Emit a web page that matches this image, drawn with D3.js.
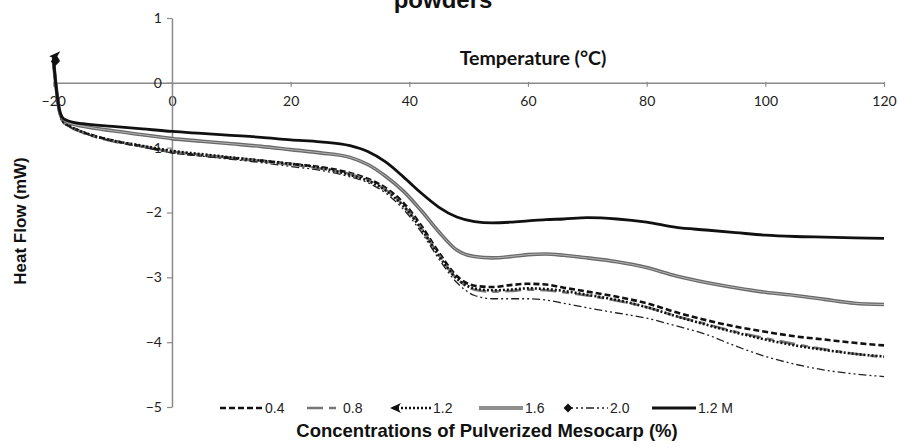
<!DOCTYPE html>
<html>
<head>
<meta charset="utf-8">
<script src="https://cdn.jsdelivr.net/npm/d3@7"></script>
<style>
  html, body { margin: 0; padding: 0; background: #fff; }
  svg { display: block; }
</style>
</head>
<body>
<svg id="chart" width="899" height="447"></svg>
<script>
// ---------------- DATA ----------------
const temps = [-20, -19.6, -19, -18.3, -17, -15, -10, -5, 0, 5, 10, 15, 20, 25, 30, 33, 36, 39, 42, 45, 48, 51, 54, 57, 60, 63, 66, 70, 75, 80, 85, 90, 95, 100, 105, 110, 115, 120];

const s04  = [0.30, 0.00, -0.42, -0.60, -0.68, -0.76, -0.89, -0.98, -1.07, -1.12, -1.16, -1.20, -1.25, -1.30, -1.39, -1.48, -1.62, -1.85, -2.20, -2.62, -2.98, -3.13, -3.15, -3.12, -3.10, -3.11, -3.16, -3.22, -3.30, -3.40, -3.54, -3.66, -3.76, -3.84, -3.91, -3.96, -4.01, -4.05];
const s08  = [0.32, 0.00, -0.43, -0.61, -0.69, -0.77, -0.90, -0.98, -1.06, -1.11, -1.16, -1.21, -1.26, -1.32, -1.41, -1.50, -1.65, -1.89, -2.24, -2.66, -3.02, -3.19, -3.22, -3.21, -3.19, -3.20, -3.23, -3.28, -3.36, -3.46, -3.60, -3.72, -3.84, -3.94, -4.03, -4.11, -4.18, -4.23];
const s12  = [0.38, 0.00, -0.43, -0.60, -0.68, -0.76, -0.89, -0.97, -1.05, -1.10, -1.15, -1.20, -1.25, -1.31, -1.42, -1.51, -1.66, -1.90, -2.25, -2.67, -3.02, -3.17, -3.20, -3.19, -3.17, -3.18, -3.21, -3.27, -3.35, -3.46, -3.60, -3.73, -3.85, -3.96, -4.05, -4.12, -4.18, -4.22];
const s16  = [0.35, 0.00, -0.42, -0.57, -0.63, -0.67, -0.74, -0.80, -0.86, -0.90, -0.94, -0.98, -1.03, -1.08, -1.15, -1.26, -1.44, -1.67, -1.97, -2.30, -2.58, -2.68, -2.70, -2.68, -2.65, -2.64, -2.66, -2.70, -2.76, -2.85, -2.98, -3.08, -3.16, -3.23, -3.28, -3.34, -3.40, -3.42];
const s20  = [0.30, 0.00, -0.43, -0.61, -0.69, -0.77, -0.90, -0.99, -1.08, -1.13, -1.18, -1.23, -1.29, -1.35, -1.45, -1.54, -1.70, -1.95, -2.30, -2.72, -3.08, -3.28, -3.33, -3.33, -3.33, -3.35, -3.40, -3.47, -3.55, -3.63, -3.75, -3.88, -4.06, -4.22, -4.34, -4.43, -4.49, -4.53];
const s12M = [0.42, 0.00, -0.40, -0.55, -0.60, -0.63, -0.67, -0.71, -0.75, -0.78, -0.81, -0.84, -0.88, -0.91, -0.97, -1.06, -1.22, -1.45, -1.70, -1.92, -2.07, -2.14, -2.16, -2.15, -2.13, -2.11, -2.10, -2.08, -2.10, -2.15, -2.23, -2.27, -2.31, -2.35, -2.37, -2.38, -2.39, -2.40];

const seriesNames = ["0.4", "0.8", "1.2", "1.6", "2.0", "1.2 M"];
const seriesValues = [s04, s08, s12, s16, s20, s12M];

const xTicks = [-20, 0, 20, 40, 60, 80, 100, 120];
const yTicks = [1, 0, -1, -2, -3, -4, -5];

const titleText = "powders";
const xTitle = "Temperature (°C)";
const yTitle = "Heat Flow (mW)";
const legendTitle = "Concentrations of Pulverized Mesocarp (%)";

// ---------------- STYLES ----------------
const styles = {
  "0.4":   { color: "#111", width: 2.6, dash: "6,3" },
  "0.8":   { color: "#777", width: 2.6, dash: "16,6,7,6" },
  "1.2":   { color: "#111", width: 2.6, dash: "2,2", marker: "arrow" },
  "1.6":   { color: "#6a6a6a", width: 3.6, dash: null, inner: "#b5b5b5" },
  "2.0":   { color: "#222", width: 1.3, dash: "8,3,2,3,2,3", marker: "diamond" },
  "1.2 M": { color: "#111", width: 2.8, dash: null }
};

// ---------------- CHART ----------------
const svg = d3.select("#chart");
const x = d3.scaleLinear().domain([-20, 120]).range([53.3, 884]);
const y = d3.scaleLinear().domain([-5, 1]).range([407, 18]);
const axisColor = "#8a8a8a";
const tickFont = "Lato, 'Open Sans', sans-serif";
const sansFont = "'Liberation Sans', Arial, sans-serif";

// title (second line, cut off at the top as in the reference)
svg.append("text")
  .attr("x", 443).attr("y", 8)
  .attr("text-anchor", "middle")
  .attr("font-family", sansFont)
  .attr("font-weight", "bold").attr("font-size", 24)
  .attr("fill", "#111")
  .text(titleText);

// X axis at y = 0
const xAxis = d3.axisBottom(x).tickValues(xTicks).tickSize(5).tickSizeOuter(0)
  .tickFormat(d => d < 0 ? "\u2212" + Math.abs(d) : String(d));
const gx = svg.append("g").attr("transform", `translate(0,${y(0)})`).call(xAxis);
gx.select(".domain").attr("stroke", axisColor).attr("stroke-width", 1.5);
gx.selectAll(".tick line").attr("stroke", axisColor).attr("stroke-width", 1.2).attr("y1", -1).attr("y2", 4);
gx.selectAll(".tick text").attr("font-family", tickFont).attr("font-size", 14).attr("fill", "#222").attr("dy", "1.05em");

// Y axis at x = 0
const yAxis = d3.axisLeft(y).tickValues(yTicks).tickSize(5).tickSizeOuter(0)
  .tickFormat(d => d < 0 ? "\u2212" + Math.abs(d) : String(d));
const gy = svg.append("g").attr("transform", `translate(${x(0)},0)`).call(yAxis);
gy.select(".domain").attr("stroke", axisColor).attr("stroke-width", 1.5);
gy.selectAll(".tick line").attr("stroke", axisColor).attr("stroke-width", 1.2);
gy.selectAll(".tick text").attr("font-family", tickFont).attr("font-size", 14).attr("fill", "#222").attr("x", -10);

// X title
svg.append("text")
  .attr("x", 533).attr("y", 65)
  .attr("text-anchor", "middle")
  .attr("font-family", tickFont)
  .attr("font-weight", "bold").attr("font-size", 19.5)
  .attr("fill", "#111")
  .text(xTitle);

// Y title
svg.append("text")
  .attr("transform", "translate(26,221) rotate(-90)")
  .attr("text-anchor", "middle")
  .attr("font-family", sansFont)
  .attr("font-weight", "bold").attr("font-size", 17)
  .attr("fill", "#111")
  .text(yTitle);

// lines
const line = d3.line().x(d => x(d[0])).y(d => y(d[1])).curve(d3.curveMonotoneX);
const plotG = svg.append("g");

function markerPath(type, cx, cy) {
  if (type === "arrow") {
    return `M${cx-6},${cy} L${cx+5},${cy-5} L${cx+2},${cy} L${cx+5},${cy+5} Z`;
  } else {
    return `M${cx},${cy-4.5} L${cx+4.5},${cy} L${cx},${cy+4.5} L${cx-4.5},${cy} Z`;
  }
}

seriesNames.forEach((name, i) => {
  const pts = temps.map((t, j) => [t, seriesValues[i][j]]);
  const st = styles[name];
  plotG.append("path")
    .attr("d", line(pts))
    .attr("fill", "none")
    .attr("stroke", st.color)
    .attr("stroke-width", st.width)
    .attr("stroke-dasharray", st.dash)
    .attr("stroke-linejoin", "round");
  if (st.inner) {
    plotG.append("path")
      .attr("d", line(pts))
      .attr("fill", "none")
      .attr("stroke", st.inner)
      .attr("stroke-width", 1);
  }
  if (st.marker) {
    plotG.append("path")
      .attr("d", markerPath(st.marker, x(pts[0][0]) + 2, y(pts[0][1]) - 2))
      .attr("fill", "#111");
  }
});

// legend
const legendItems = [
  { name: "0.4",   x0: 220, x1: 263 },
  { name: "0.8",   x0: 307, x1: 341 },
  { name: "1.2",   x0: 393, x1: 431 },
  { name: "1.6",   x0: 479, x1: 523 },
  { name: "2.0",   x0: 565, x1: 608 },
  { name: "1.2 M", x0: 652, x1: 696 }
];
const ly = 408;
const lg = svg.append("g");
legendItems.forEach(it => {
  const st = styles[it.name];
  lg.append("line")
    .attr("x1", it.x0).attr("x2", it.x1).attr("y1", ly).attr("y2", ly)
    .attr("stroke", st.color).attr("stroke-width", st.width)
    .attr("stroke-dasharray", st.dash);
  if (st.inner) {
    lg.append("line")
      .attr("x1", it.x0).attr("x2", it.x1).attr("y1", ly).attr("y2", ly)
      .attr("stroke", st.inner).attr("stroke-width", 1);
  }
  if (st.marker) {
    lg.append("path").attr("d", markerPath(st.marker, it.x0 + 3, ly)).attr("fill", "#111");
  }
  lg.append("text")
    .attr("x", it.x1 + 2).attr("y", ly + 5)
    .attr("font-family", sansFont)
    .attr("font-size", 14).attr("fill", "#222")
    .text(it.name);
});

svg.append("text")
  .attr("x", 487).attr("y", 437)
  .attr("text-anchor", "middle")
  .attr("font-family", sansFont)
  .attr("font-weight", "bold").attr("font-size", 18.5)
  .attr("fill", "#111")
  .text(legendTitle);
</script>
</body>
</html>
